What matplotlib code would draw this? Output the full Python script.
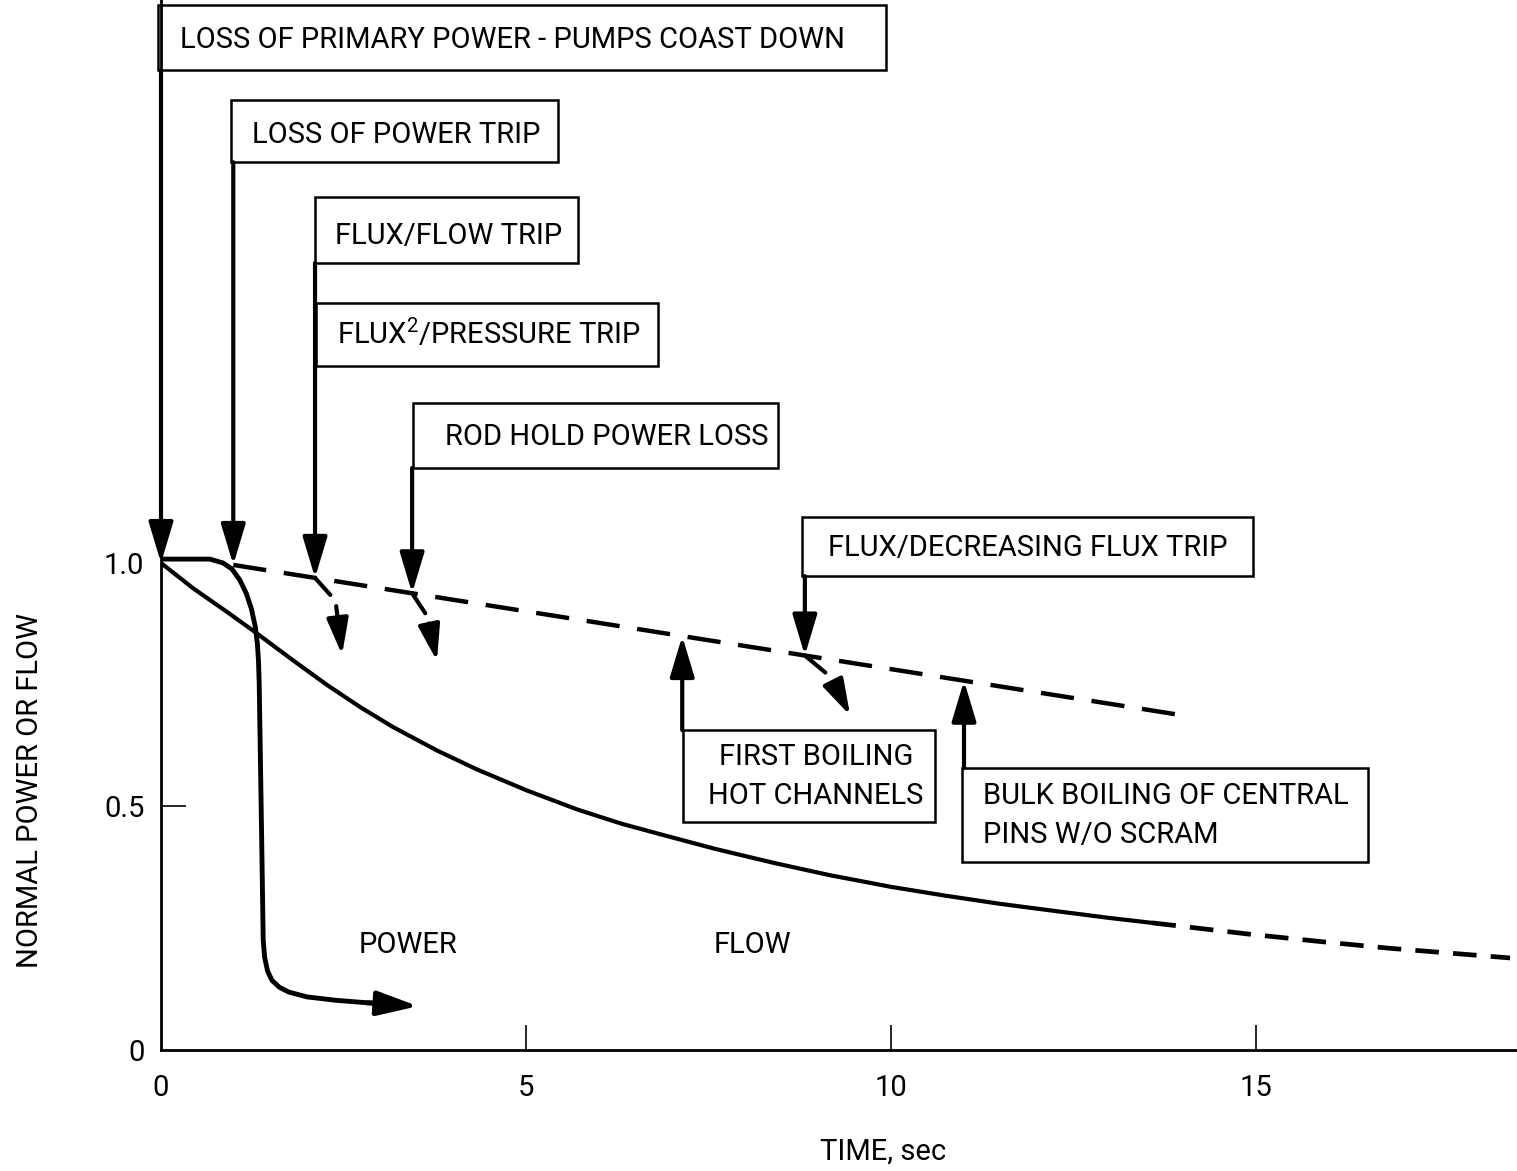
import matplotlib

matplotlib.use("Agg")
import matplotlib.pyplot as plt
import numpy as np
from matplotlib.patches import Rectangle

plt.rcParams["font.family"] = ["Roboto", "DejaVu Sans"]
plt.rcParams["mathtext.fontset"] = "custom"
plt.rcParams["mathtext.rm"] = "Roboto"
plt.rcParams["mathtext.it"] = "Roboto"

# Flow coast-down (solid part, then dashed extrapolation)
flow_t = [0.0, 0.44, 0.90, 1.29, 1.81, 2.27, 2.73, 3.18, 3.78, 4.33, 5.01, 5.70, 6.3, 6.84,
          7.59, 8.4, 9.16, 10.0, 10.74, 11.5, 12.32, 13.0, 13.58]
flow_y = [1.0, 0.948, 0.900, 0.858, 0.800, 0.750, 0.704, 0.663, 0.615, 0.576, 0.533, 0.494, 0.465, 0.443,
          0.413, 0.384, 0.359, 0.335, 0.317, 0.300, 0.284, 0.271, 0.261]
flow_ext_t = [13.58, 14.9, 15.86, 16.82, 18.48]
flow_ext_y = [0.261, 0.238, 0.223, 0.209, 0.189]

# Power without scram trip (drops after loss of power)
power_t = [0.0, 0.67, 0.85, 0.97, 1.08, 1.17, 1.24, 1.29, 1.32, 1.335, 1.345, 1.38, 1.40,
           1.42, 1.46, 1.52, 1.62, 1.75, 2.0, 2.4, 2.82, 3.2]
power_y = [1.008, 1.008, 1.0, 0.988, 0.965, 0.937, 0.905, 0.870, 0.835, 0.80, 0.754, 0.425, 0.226,
           0.19, 0.162, 0.143, 0.129, 0.119, 0.109, 0.102, 0.097, 0.094]
power_tip = (3.52, 0.090)

# Trip envelope (dashed)
trip_t = [0.99, 13.96]
trip_y = [0.996, 0.688]

# Event labels pointing down to the curves: (label, time, box, text anchor)
# box = (x0, x1, y_bottom, y_top) in data units
down_events = [
    ("LOSS OF PRIMARY POWER - PUMPS COAST DOWN", 0.0, (-0.04, 9.93, 2.012, 2.146), (0.26, 2.074)),
    ("LOSS OF POWER TRIP", 0.99, (0.96, 5.44, 1.823, 1.951), (1.25, 1.879)),
    ("FLUX/FLOW TRIP", 2.11, (2.11, 5.71, 1.616, 1.752), (2.38, 1.671)),
    ("FLUX$^{2}$/PRESSURE TRIP", None, (2.12, 6.81, 1.405, 1.534), (2.41, 1.472)),
    ("ROD HOLD POWER LOSS", 3.44, (3.45, 8.45, 1.195, 1.329), (3.89, 1.259)),
    ("FLUX/DECREASING FLUX TRIP", 8.82, (8.78, 14.96, 0.973, 1.094), (9.14, 1.031)),
]
# Event labels pointing up to the trip envelope
up_events = [
    ("FIRST BOILING\nHOT CHANNELS", 7.14, (7.15, 10.60, 0.468, 0.657), (8.97, 0.562), "center"),
    ("BULK BOILING OF CENTRAL\nPINS W/O SCRAM", 11.0, (10.97, 16.53, 0.386, 0.579), (11.26, 0.482), "left"),
]
# Power drop after each trip: kink end, arrow start, arrow tip (offsets from trip point)
drop_times = [2.11, 3.44, 8.82]
drop_offsets = [
    ((0.21, -0.035), (0.29, -0.058), (0.37, -0.158)),
    ((0.18, -0.041), (0.23, -0.062), (0.34, -0.139)),
    ((0.28, -0.035), (0.40, -0.058), (0.62, -0.123)),
]

FS = 21
fig = plt.figure(figsize=(15.17, 11.71), dpi=100)
ax = fig.add_axes([161 / 1517, 121 / 1171, 1356 / 1517, 1050 / 1171])
ax.set_xlim(0, 18.575)
ax.set_ylim(0, 2.156)
for side in ("top", "right"):
    ax.spines[side].set_visible(False)
for side in ("left", "bottom"):
    ax.spines[side].set_linewidth(2.0)

ax.set_xticks([0, 5, 10, 15])
ax.set_yticks([0, 0.5, 1.0])
ax.set_yticklabels(["0", "0.5", "1.0"])
ax.tick_params(axis="both", direction="in", length=18, width=1.2, labelsize=FS)
ax.tick_params(axis="x", pad=17)
ax.tick_params(axis="y", pad=12)
ax.xaxis.get_major_ticks()[0].tick1line.set_visible(False)
ax.yaxis.get_major_ticks()[0].tick1line.set_visible(False)
ax.yaxis.get_major_ticks()[2].tick1line.set_visible(False)

arrow_kw = dict(arrowstyle="-|>,head_length=1.0,head_width=0.3", mutation_scale=25,
                lw=3.0, color="black", shrinkA=0, shrinkB=0)

# curves
ax.plot(flow_t, flow_y, color="black", lw=3.0, solid_capstyle="round", solid_joinstyle="round")
ax.plot(flow_ext_t, flow_ext_y, color="black", lw=3.4, linestyle=(0, (5.0, 3.0)))
ax.plot(power_t, power_y, color="black", lw=3.5, solid_capstyle="round", solid_joinstyle="round")
ax.annotate("", xy=power_tip, xytext=(power_t[-2], power_y[-2]),
            arrowprops=dict(arrow_kw, lw=3.5))
ax.plot(trip_t, trip_y, color="black", lw=3.2, linestyle=(0, (7.5, 4.0)))


def on_trip(t):
    return float(np.interp(t, trip_t, trip_y))


# boxes pointing down
for label, t, box, anchor in down_events:
    x0, x1, yb, yt = box
    ax.add_patch(Rectangle((x0, yb), x1 - x0, yt - yb, fill=False, lw=1.8,
                           edgecolor="black", clip_on=False, zorder=3))
    ax.text(anchor[0], anchor[1], label, fontsize=FS, ha="left", va="center")
    if t is not None:
        target = 1.0 if t == 0 else on_trip(t)
        ax.annotate("", xy=(t, target), xytext=(t, yb), arrowprops=arrow_kw)

# boxes pointing up
for label, t, box, anchor, ha in up_events:
    x0, x1, yb, yt = box
    ax.add_patch(Rectangle((x0, yb), x1 - x0, yt - yb, fill=False, lw=1.8,
                           edgecolor="black", zorder=3))
    ax.text(anchor[0], anchor[1], label, fontsize=FS, ha=ha, va="center",
            linespacing=1.5)
    ax.annotate("", xy=(t, on_trip(t)), xytext=(t, yt), arrowprops=arrow_kw)

# power drops after trips
for t0, (kink, start, tip) in zip(drop_times, drop_offsets):
    y0 = on_trip(t0)
    ax.plot([t0, t0 + kink[0]], [y0, y0 + kink[1]], color="black", lw=3.0,
            solid_capstyle="round")
    ax.annotate("", xy=(t0 + tip[0], y0 + tip[1]),
                xytext=(t0 + start[0], y0 + start[1]),
                arrowprops=dict(arrow_kw, mutation_scale=22))

ax.text(3.38, 0.216, "POWER", fontsize=FS, ha="center", va="center")
ax.text(8.10, 0.216, "FLOW", fontsize=FS, ha="center", va="center")

fig.text(883 / 1517, 1 - 1152 / 1171, "TIME, sec", fontsize=FS, ha="center", va="center")
fig.text(30 / 1517, 1 - 790 / 1171, "NORMAL POWER OR FLOW", fontsize=FS,
         rotation=90, ha="center", va="center")

fig.savefig("out.png", dpi=100)
